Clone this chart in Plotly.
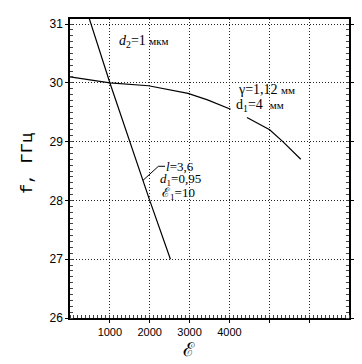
import plotly.graph_objects as go

# Steep curve (l=3,6; d1=0,95; eps1=10)
eps_a = [480, 1000, 2000, 2520]
f_a = [31.1, 30.0, 28.0, 27.0]

# Gentle curve (gamma=1,12 mm; d1=4 mm), gap where the label sits
eps_b = [0, 1000, 1970, 2470, 2960, 3450, 4030, None, 4440, 5010, 5340, 5790]
f_b = [30.10, 30.0, 29.95, 29.89, 29.82, 29.71, 29.55, None, 29.41, 29.20, 29.0, 28.70]

x_ticks = [1000, 2000, 3000, 4000, 5000, 6000]
x_tick_text = ["1000", "2000", "3000", "4000", "", ""]
y_ticks = [26, 27, 28, 29, 30, 31]
y_tick_text = ["26", "27", "28", "29", "30", "31"]

fig = go.Figure()
fig.add_trace(go.Scatter(x=eps_a, y=f_a, mode="lines",
                         line=dict(color="black", width=1.2), showlegend=False))
fig.add_trace(go.Scatter(x=eps_b, y=f_b, mode="lines",
                         line=dict(color="black", width=1.2), showlegend=False))

serif = "Liberation Serif"
ann = []
ann.append(dict(x=1200, y=30.71, xanchor="left", yanchor="middle", showarrow=False, borderpad=0,
                text="<i>d</i><sub>2</sub>=1 <span style='font-size:11px'>мкм</span>",
                font=dict(family=serif, size=14, color="black")))
ann.append(dict(x=4180, y=29.88, xanchor="left", yanchor="middle", showarrow=False, borderpad=0,
                text="γ=1,12 <span style='font-size:11px'>мм</span>",
                font=dict(family=serif, size=14, color="black")))
ann.append(dict(x=4150, y=29.61, xanchor="left", yanchor="middle", showarrow=False, borderpad=0,
                text="d<sub>1</sub>=4  <span style='font-size:11px'>мм</span>",
                font=dict(family=serif, size=14, color="black")))
ann.append(dict(x=2390, y=28.575, xanchor="left", yanchor="middle", showarrow=False, borderpad=0,
                text="<i>l</i>=3,6",
                font=dict(family=serif, size=13, color="black")))
ann.append(dict(x=2240, y=28.35, xanchor="left", yanchor="middle", showarrow=False, borderpad=0,
                text="<i>d</i><sub>1</sub>=0,95",
                font=dict(family=serif, size=13, color="black")))
ann.append(dict(x=2280, y=28.12, xanchor="left", yanchor="middle", showarrow=False, borderpad=0,
                text="ℰ<sub>1</sub>=10",
                font=dict(family=serif, size=13, color="black")))
# axis titles
ann.append(dict(xref="paper", yref="paper", x=-0.152, y=0.517, xanchor="center", yanchor="middle",
                showarrow=False, textangle=-90, text="f, ГГц",
                font=dict(family="Liberation Mono", size=17, color="black")))
ann.append(dict(xref="paper", yref="paper", x=0.425, y=-0.105, xanchor="center", yanchor="middle",
                showarrow=False, text="ℰ",
                font=dict(family="DejaVu Serif", size=19, color="black")))

shapes = [dict(type="path", xref="x", yref="y",
               path="M 1830 28.34 L 2218 28.58 L 2385 28.58",
               line=dict(color="black", width=1))]

# page body adds an 8px margin, so the figure is sized and offset to compensate
fig.update_layout(
    width=354, height=356,
    margin=dict(l=62, r=8, t=11, b=46),
    plot_bgcolor="white", paper_bgcolor="white",
    annotations=ann, shapes=shapes,
    xaxis=dict(range=[0, 7000], tickvals=x_ticks, ticktext=x_tick_text,
               showgrid=True, gridcolor="#222", griddash="1px,2px", gridwidth=1,
               showline=True, linecolor="black", linewidth=1.5, mirror=True,
               ticks="outside", ticklen=3, tickcolor="black",
               minor=dict(dtick=100, ticks="inside", ticklen=3, tickcolor="#444", showgrid=False),
               tickfont=dict(family="Liberation Sans", size=11, color="black"),
               zeroline=False),
    yaxis=dict(range=[26, 31.085], tickvals=y_ticks, ticktext=y_tick_text,
               showgrid=True, gridcolor="#222", griddash="1px,2px", gridwidth=1,
               showline=True, linecolor="black", linewidth=1.5, mirror="allticks",
               ticks="outside", ticklen=3, tickcolor="black",
               minor=dict(dtick=0.1, ticks="inside", ticklen=3, tickcolor="#444", showgrid=False),
               tickfont=dict(family="Liberation Sans", size=12, color="black"),
               zeroline=False),
)

fig.write_html("out.html")
